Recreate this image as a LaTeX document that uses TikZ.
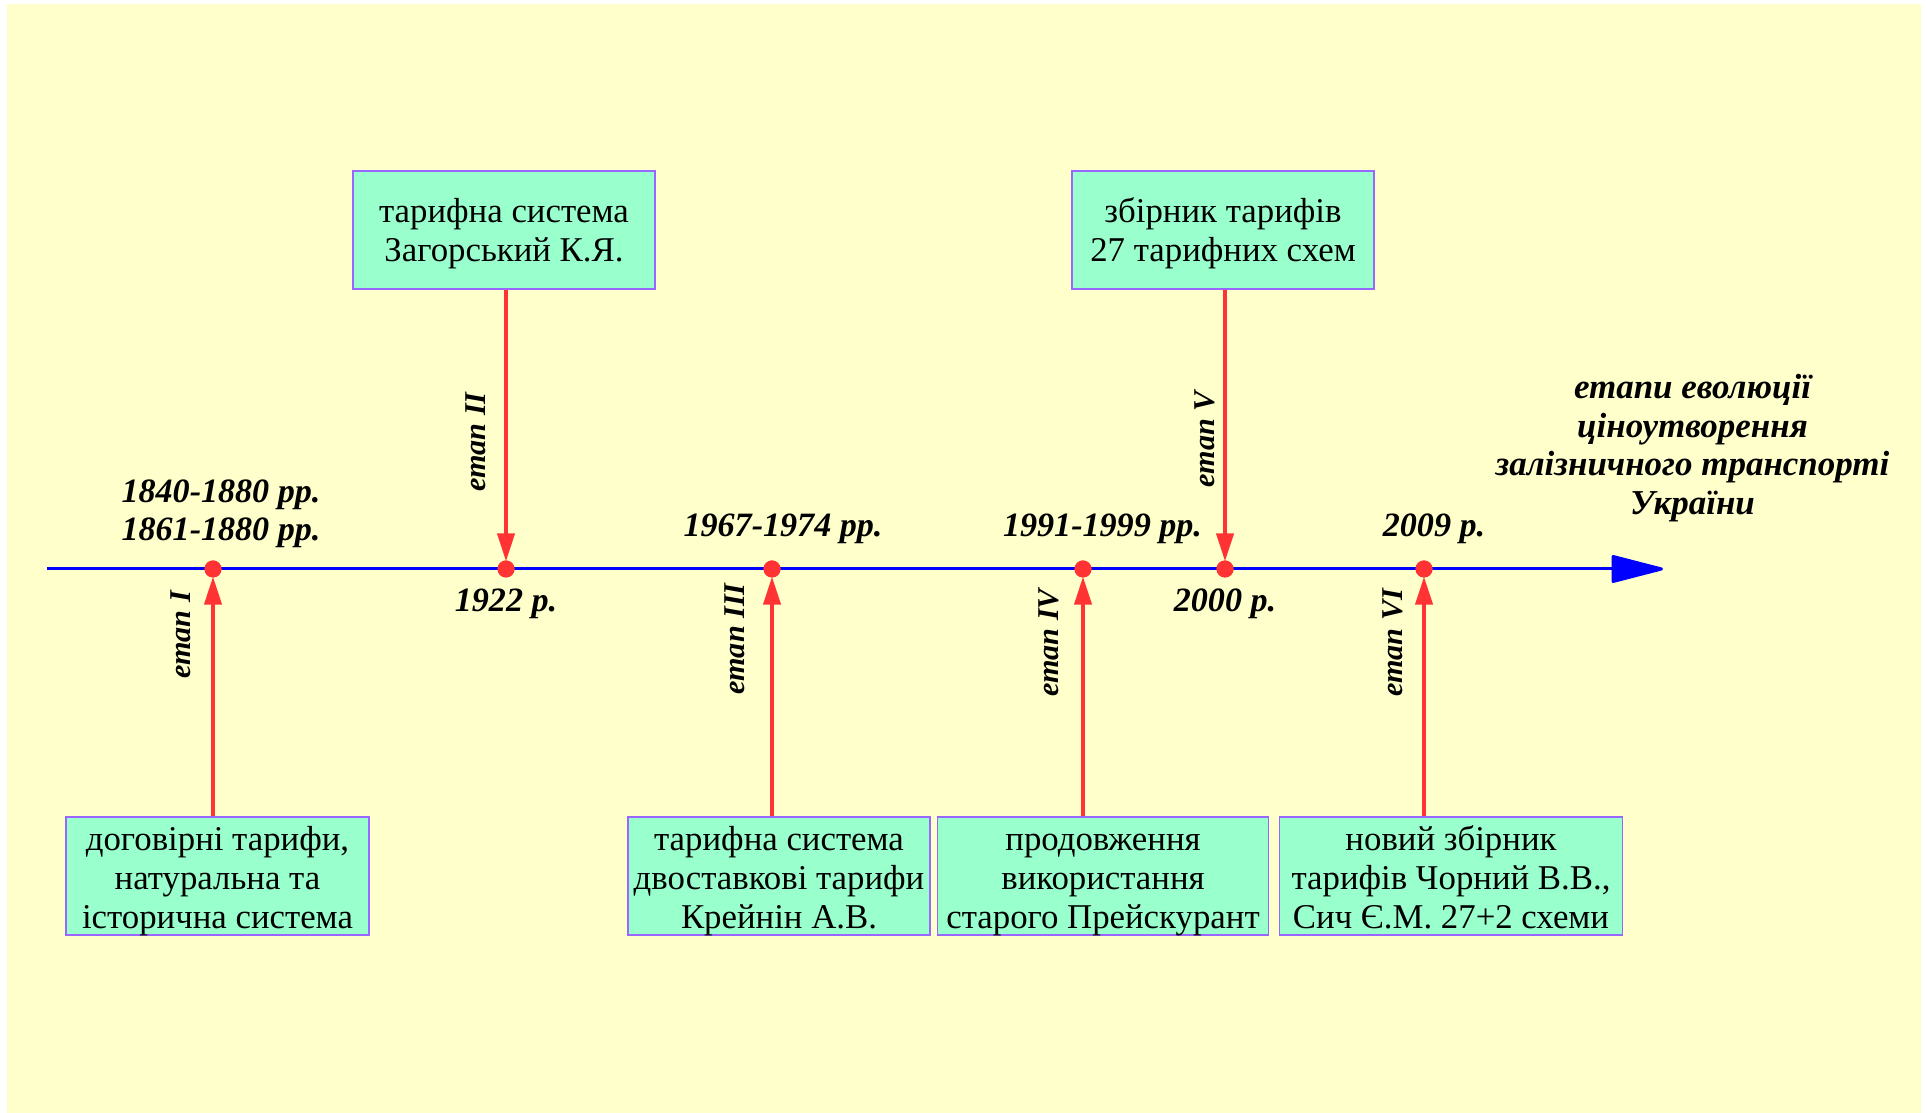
\documentclass[tikz,border=0pt]{standalone}
\usepackage{fontspec}
\setmainfont{Liberation Serif}
\usetikzlibrary{arrows.meta}

\definecolor{bgyellow}{HTML}{FFFFCC}
\definecolor{boxgreen}{HTML}{99FFCC}
\definecolor{boxline}{HTML}{9966FF}
\definecolor{arrowred}{HTML}{FF3333}

\tikzset{
    infobox/.style={draw=boxline, fill=boxgreen, line width=0.8pt, minimum width=#1,
        minimum height=2.36cm, inner sep=0pt, align=center,
        font=\fontsize{19.8}{22.3}\selectfont,
        text height=63.4pt, text depth=3.5pt},
    infobox/.default=6.04cm,
    topbox/.style={infobox, text height=40.5pt, text depth=4.3pt},
    datelabel/.style={align=center, font=\fontsize{19.4}{21.8}\selectfont\bfseries\itshape},
    stagelabel/.style={rotate=90, font=\fontsize{17.2}{19}\selectfont\bfseries\itshape},
    dot/.style={circle, fill=arrowred, inner sep=0pt, minimum size=0.34cm},
    stagearrow/.style={draw=arrowred, line width=2.3pt, -{Triangle[length=0.56cm, width=0.34cm]}, shorten >=-1pt}
}

\begin{document}
\begin{tikzpicture}[line width=1pt]
    % page and background
    \useasboundingbox (0, 0) rectangle (38.54, 22.26);
    \fill[bgyellow] (0.14, 0) rectangle (38.42, 22.18);

    % draw time axis
    \coordinate (start) at (0.94, 10.88);
    \coordinate (end) at (33.26, 10.88);
    \draw[blue, line width=1.7pt, -{Triangle[length=1.12cm, width=0.56cm, round]}] (start) -- (end);

    % points on the axis
    \node[dot] (d1) at (4.26, 10.88) {};
    \node[dot] (d2) at (10.12, 10.88) {};
    \node[dot] (d3) at (15.44, 10.88) {};
    \node[dot] (d4) at (21.66, 10.88) {};
    \node[dot] (d5) at (24.50, 10.88) {};
    \node[dot] (d6) at (28.48, 10.88) {};

    % draw boxes above the axis
    \node[topbox] (zagor) at (10.08, 17.66) {тарифна система\\Загорський К.Я.};
    \node[topbox] (zbirn) at (24.46, 17.66) {збірник тарифів\\27 тарифних схем};

    % draw boxes below the axis
    \node[infobox=6.06cm] (dogov) at (4.35, 4.74) {договірні тарифи,\\натуральна та\\історична система};
    \node[infobox] (krein) at (15.58, 4.74) {тарифна система\\двоставкові тарифи\\Крейнін А.В.};
    \node[infobox=6.62cm] (prodov) at (22.06, 4.74) {продовження\\використання\\старого Прейскурант};
    \node[infobox=6.86cm] (noviy) at (29.02, 4.74) {новий збірник\\тарифів Чорний В.В.,\\Сич Є.М. 27+2 схеми};

    % draw arrows to the points
    \draw[stagearrow] (d2 |- zagor.south) -- (d2);
    \draw[stagearrow] (d5 |- zbirn.south) -- (d5);
    \draw[stagearrow] (d1 |- dogov.north) -- (d1);
    \draw[stagearrow] (d3 |- krein.north) -- (d3);
    \draw[stagearrow] (d4 |- prodov.north) -- (d4);
    \draw[stagearrow] (d6 |- noviy.north) -- (d6);

    % redraw points on top
    \foreach \p in {d1, d2, d3, d4, d5, d6}
        \fill[arrowred] (\p) circle (0.17);

    % stage names
    \node[stagelabel] (st1) at (3.61, 9.56) {етап I};
    \node[stagelabel] (st2) at (9.51, 13.42) {етап II};
    \node[stagelabel] (st3) at (14.70, 9.48) {етап III};
    \node[stagelabel] (st4) at (20.97, 9.40) {етап IV};
    \node[stagelabel] (st5) at (24.09, 13.48) {етап V};
    \node[stagelabel] (st6) at (27.85, 9.40) {етап VI};

    % dates
    \node[datelabel] (y1) at (4.42, 11.98) {1840-1880 рр.\\1861-1880 рр.};
    \node[datelabel] (y2) at (10.12, 10.18) {1922 р.};
    \node[datelabel] (y3) at (15.66, 11.68) {1967-1974 рр.};
    \node[datelabel] (y4) at (22.05, 11.68) {1991-1999 рр.};
    \node[datelabel] (y5) at (24.50, 10.18) {2000 р.};
    \node[datelabel] (y6) at (28.68, 11.68) {2009 р.};

    % title of the axis
    \node[datelabel, font=\fontsize{19.9}{21.9}\selectfont\bfseries\itshape] (title) at (33.85, 13.30)
        {етапи еволюції\\ціноутворення\\залізничного транспорті\\України};
\end{tikzpicture}
\end{document}
